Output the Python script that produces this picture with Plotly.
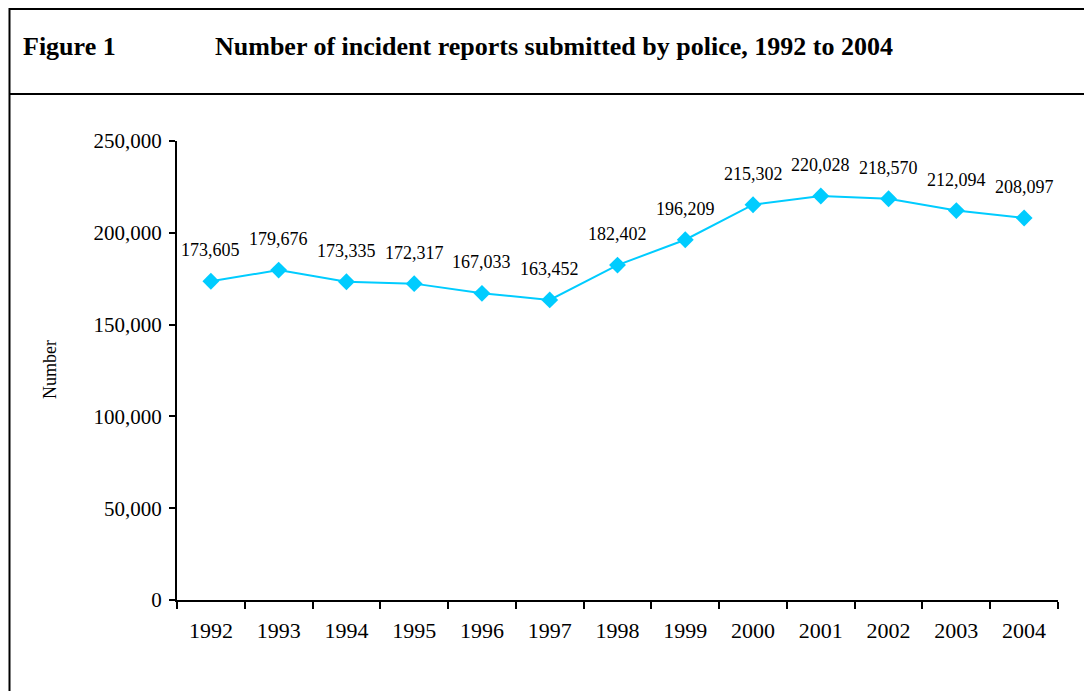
import plotly.graph_objects as go

years = ['1992', '1993', '1994', '1995', '1996', '1997', '1998',
         '1999', '2000', '2001', '2002', '2003', '2004']
reports = [173605, 179676, 173335, 172317, 167033, 163452, 182402,
           196209, 215302, 220028, 218570, 212094, 208097]
y_ticks = [0, 50000, 100000, 150000, 200000, 250000]

# the page body adds an 8px margin, so work in screen pixels minus 8
OFF = 8
W, H = 1092 - OFF, 691 - OFF
L, R, T, B = 177 - OFF, 1058 - OFF, 141 - OFF, 600 - OFF


def px_x(p):
    return (p - OFF - L) / (R - L)


def px_y(p):
    return (B - (p - OFF)) / (B - T)


fig = go.Figure()
fig.add_trace(go.Scatter(
    x=years, y=reports, mode='lines+markers',
    line=dict(color='#00CCFF', width=2),
    marker=dict(symbol='diamond', size=13, color='#00CCFF'),
    showlegend=False,
))

for i, v in enumerate(reports):
    fig.add_annotation(x=i, y=v, xref='x', yref='y', text=f"{v:,}",
                       showarrow=False, yshift=31,
                       font=dict(size=18, color='black'))

# frame and header divider
line = dict(color='black', width=2)
fig.add_shape(type='line', xref='paper', yref='paper',
              x0=px_x(9), x1=px_x(1100), y0=px_y(9), y1=px_y(9), line=line)
fig.add_shape(type='line', xref='paper', yref='paper',
              x0=px_x(9), x1=px_x(1100), y0=px_y(94), y1=px_y(94), line=line)
fig.add_shape(type='line', xref='paper', yref='paper',
              x0=px_x(9.5), x1=px_x(9.5), y0=px_y(8), y1=px_y(700), line=line)

fig.add_annotation(xref='paper', yref='paper', x=px_x(21), y=px_y(46),
                   xanchor='left', yanchor='middle', showarrow=False,
                   text='<b>Figure 1</b>', font=dict(size=26, color='black'))
fig.add_annotation(xref='paper', yref='paper', x=px_x(213), y=px_y(46),
                   xanchor='left', yanchor='middle', showarrow=False,
                   text='<b>Number of incident reports submitted by police, 1992 to 2004</b>',
                   font=dict(size=26, color='black'))
fig.add_annotation(xref='paper', yref='paper', x=px_x(50), y=px_y(370),
                   xanchor='center', yanchor='middle', showarrow=False,
                   text='Number', textangle=-90, font=dict(size=18, color='black'))

fig.update_xaxes(type='category', range=[-0.5, len(years) - 0.5],
                 tickson='boundaries', ticks='outside', ticklen=7, tickwidth=2,
                 tickcolor='black', showline=True, linecolor='black', linewidth=2,
                 showgrid=False, ticklabelstandoff=10,
                 tickfont=dict(size=22, color='black'))
fig.update_yaxes(range=[0, 250000], tickvals=y_ticks,
                 ticktext=[f"{t:,}" for t in y_ticks],
                 ticks='outside', ticklen=6, tickwidth=2, tickcolor='black',
                 showline=True, linecolor='black', linewidth=2, showgrid=False,
                 zeroline=False, ticklabelstandoff=3,
                 tickfont=dict(size=21, color='black'))

fig.update_layout(
    width=W, height=H,
    margin=dict(l=L, r=W - R, t=T, b=H - B),
    plot_bgcolor='white', paper_bgcolor='white',
    font=dict(family='Liberation Serif', color='black'),
)

fig.write_html("out.html")
